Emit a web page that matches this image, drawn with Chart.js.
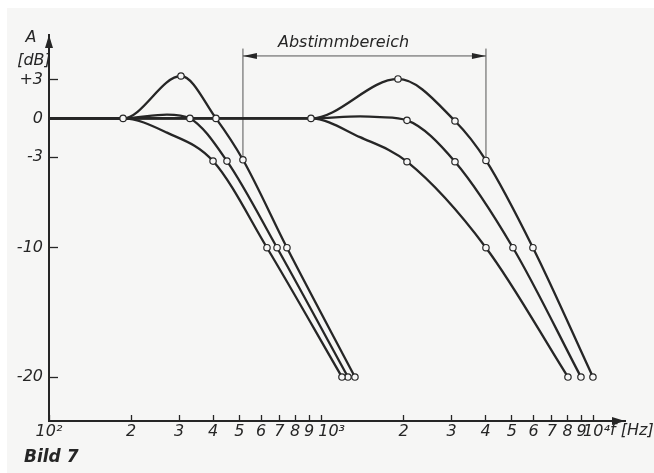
<!DOCTYPE html>
<html>
<head>
<meta charset="utf-8">
<script src="https://cdn.jsdelivr.net/npm/chart.js@4.4.0/dist/chart.umd.min.js"></script>
<style>
  html, body { margin: 0; padding: 0; background: #fff; }
</style>
</head>
<body>
<canvas id="c" width="654" height="473"></canvas>
<script>
// ── Achsen
const xTickVals   = [100, 200, 300, 400, 500, 600, 700, 800, 900, 1000, 2000, 3000, 4000, 5000, 6000, 7000, 8000, 9000, 10000];
const xTickLabels = ['10²', '2', '3', '4', '5', '6', '7', '8', '9', '    10³', '2', '3', '4', '5', '6', '7', '8', '9', ' 10⁴'];
const yTickVals   = [-20, -10, -3, 0, 3];
const yTickLabels = ['-20', '-10', '-3', '0', '+3'];

// ── Kurven: f in Hz, A in dB, mark = 1 wo ein Kreis sitzt
// tiefe Gruppe
const lo1F = [100, 187, 305, 410, 515, 747, 1327];
const lo1A = [0, 0, 3.28, 0, -3.2, -10, -20];
const lo1M = [0, 1, 1, 1, 1, 1, 1];

const lo2F = [100, 187, 271, 329, 450, 687, 1251];
const lo2A = [0, 0, 0.3, 0, -3.3, -10, -20];
const lo2M = [0, 0, 0, 1, 1, 1, 1];

const lo3F = [100, 187, 271, 400, 631, 1189];
const lo3A = [0, 0, -1.1, -3.3, -10, -20];
const lo3M = [0, 0, 0, 1, 1, 1];

// hohe Gruppe
const hi1F = [100, 915, 1909, 3090, 4015, 5972, 9915];
const hi1A = [0, 0, 3.05, -0.2, -3.25, -10, -20];
const hi1M = [0, 1, 1, 1, 1, 1, 1];

const hi2F = [100, 915, 1385, 1640, 2060, 3090, 5044, 8960];
const hi2A = [0, 0, 0.15, 0.1, -0.15, -3.35, -10, -20];
const hi2M = [0, 0, 0, 0, 1, 1, 1, 1];

const hi3F = [100, 915, 1385, 2060, 4015, 8028];
const hi3A = [0, 0, -1.45, -3.35, -10, -20];
const hi3M = [0, 0, 0, 1, 1, 1];

// ── Abstimmbereich (Hz / dB)
const tuneLo = 515, tuneHi = 4015;
const tuneLoEnd = -3.2, tuneHiEnd = -3.25;
const tuneTop = 5.4, tuneArrow = 4.83;

const ink = '#262626';
const tickFont = { family: 'DejaVu Sans', style: 'italic', size: 16 };

const curves = [
  [lo1F, lo1A, lo1M], [lo2F, lo2A, lo2M], [lo3F, lo3A, lo3M],
  [hi1F, hi1A, hi1M], [hi2F, hi2A, hi2M], [hi3F, hi3A, hi3M]
];

const curveSets = curves.map(([f, a]) => ({
  data: f.map((v, i) => ({ x: v, y: a[i] })),
  borderColor: ink, borderWidth: 2.3,
  pointRadius: 0, fill: false,
  cubicInterpolationMode: 'monotone'
}));

const markData = curves.flatMap(([f, a, m]) =>
  f.map((v, i) => m[i] ? { x: v, y: a[i] } : null).filter(Boolean));

const markSet = {
  data: markData, showLine: false, order: -1,
  pointRadius: 3.2, pointBorderWidth: 1.2,
  pointBackgroundColor: '#f7f7f7', pointBorderColor: ink
};

function arrowHead(ctx, x, y, dx, dy, len, half) {
  const px = -dy, py = dx;
  ctx.beginPath();
  ctx.moveTo(x, y);
  ctx.lineTo(x - dx * len + px * half, y - dy * len + py * half);
  ctx.lineTo(x - dx * len - px * half, y - dy * len - py * half);
  ctx.closePath();
  ctx.fill();
}

const decor = {
  id: 'decor',
  beforeDraw(chart) {
    const { ctx, width, height } = chart;
    ctx.save();
    ctx.fillStyle = '#fff';
    ctx.fillRect(0, 0, width, height);
    ctx.fillStyle = '#f6f6f5';
    ctx.fillRect(7, 8, width - 7, height - 8);
    ctx.restore();
  },
  beforeDatasetsDraw(chart) {
    const { ctx, scales: { x, y } } = chart;
    const xl = x.getPixelForValue(tuneLo), xr = x.getPixelForValue(tuneHi);
    const yt = y.getPixelForValue(tuneTop), ya = y.getPixelForValue(tuneArrow);
    ctx.save();
    ctx.strokeStyle = '#555';
    ctx.lineWidth = 1;
    ctx.beginPath();
    ctx.moveTo(xl, yt); ctx.lineTo(xl, y.getPixelForValue(tuneLoEnd));
    ctx.moveTo(xr, yt); ctx.lineTo(xr, y.getPixelForValue(tuneHiEnd));
    ctx.moveTo(xl, ya); ctx.lineTo(xr, ya);
    ctx.stroke();
    ctx.fillStyle = ink;
    arrowHead(ctx, xl, ya, -1, 0, 14, 3);
    arrowHead(ctx, xr, ya, 1, 0, 14, 3);
    ctx.font = 'italic 16px "DejaVu Sans"';
    ctx.textAlign = 'left';
    ctx.textBaseline = 'middle';
    ctx.fillText('Abstimmbereich', xl + 35, ya - 13);
    ctx.restore();
  },
  afterDraw(chart) {
    const { ctx, chartArea: ca } = chart;
    ctx.save();
    ctx.fillStyle = ink;
    arrowHead(ctx, ca.left, ca.top, 0, -1, 13, 4);
    arrowHead(ctx, ca.right, ca.bottom, 1, 0, 13, 4);
    ctx.font = 'italic 16px "DejaVu Sans"';
    ctx.textAlign = 'center';
    ctx.textBaseline = 'middle';
    ctx.fillText('A', 31, 38);
    ctx.fillText('[dB]', 34, 61);
    ctx.textAlign = 'left';
    ctx.fillText('f [Hz]', 610, 431);
    ctx.font = 'italic bold 17px "DejaVu Sans"';
    ctx.fillText('Bild 7', 24, 458);
    ctx.restore();
  }
};

new Chart(document.getElementById('c'), {
  type: 'line',
  data: { datasets: [markSet, ...curveSets] },
  options: {
    responsive: false,
    animation: false,
    devicePixelRatio: 1,
    layout: { padding: { top: 35, right: 29, left: 0, bottom: 0 } },
    plugins: { legend: { display: false }, tooltip: { enabled: false } },
    scales: {
      x: {
        type: 'logarithmic', position: 'bottom', min: 100, max: 13000, bounds: 'data',
        afterBuildTicks: s => { s.ticks = xTickVals.map(v => ({ value: v })); },
        afterFit: s => { s.height = 52; },
        ticks: {
          autoSkip: false, maxRotation: 0, minRotation: 0, padding: 7,
          color: ink, font: tickFont,
          callback: (v, i) => xTickLabels[i]
        },
        grid: { drawOnChartArea: false, drawTicks: true, tickLength: -6, tickColor: ink, tickWidth: 1.3 },
        border: { display: true, color: ink, width: 2 }
      },
      y: {
        type: 'linear', position: 'left', min: -23.4, max: 6.45, bounds: 'data',
        afterBuildTicks: s => { s.ticks = yTickVals.map(v => ({ value: v })); },
        afterFit: s => { s.width = 49; },
        ticks: {
          padding: 15, color: ink, font: tickFont,
          callback: (v, i) => yTickLabels[i]
        },
        grid: { drawOnChartArea: false, drawTicks: true, tickLength: -9, tickColor: ink, tickWidth: 1.3 },
        border: { display: true, color: ink, width: 2 }
      }
    }
  },
  plugins: [decor]
});
</script>
</body>
</html>
